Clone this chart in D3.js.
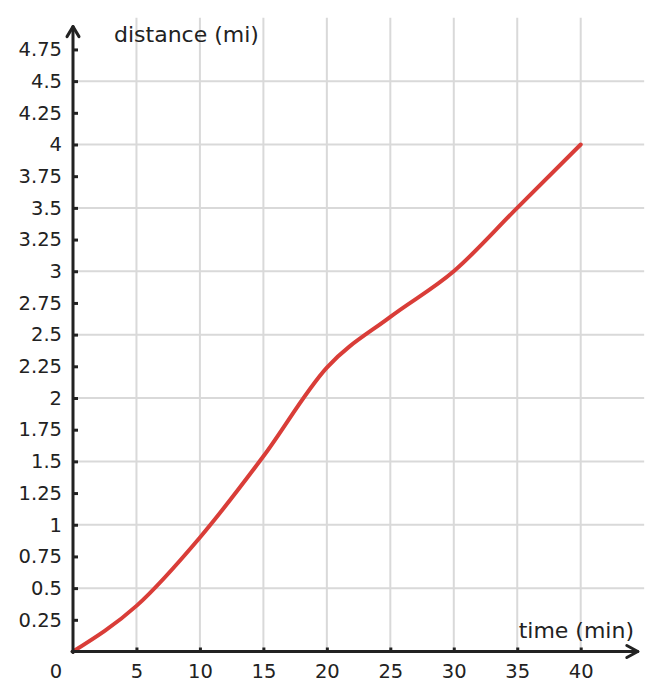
<!DOCTYPE html>
<html>
<head>
<meta charset="utf-8">
<script src="https://cdn.jsdelivr.net/npm/d3@7"></script>
<style>
  body { margin: 0; background: #fff; }
  svg { display: block; font-family: "DejaVu Sans", sans-serif; }
</style>
</head>
<body>
<svg width="662" height="700"></svg>
<script>
// data
const times = [0, 5, 10, 15, 20, 25, 30, 35, 40];
const distances = [0, 0.36, 0.9, 1.54, 2.24, 2.64, 3, 3.5, 4];

// axis ticks and grid
const xTicks = [5, 10, 15, 20, 25, 30, 35, 40];
const yTicks = [0.25, 0.5, 0.75, 1, 1.25, 1.5, 1.75, 2, 2.25, 2.5, 2.75, 3, 3.25, 3.5, 3.75, 4, 4.25, 4.5, 4.75];
const yGrid = [0.5, 1, 1.5, 2, 2.5, 3, 3.5, 4, 4.5];
const xLabel = "time (min)";
const yLabel = "distance (mi)";

const svg = d3.select("svg");
const ink = "#222";

const x = d3.scaleLinear().domain([0, 40]).range([73, 580.7]);
const y = d3.scaleLinear().domain([0, 4]).range([651.5, 144.5]);

// grid
const grid = svg.append("g").attr("stroke", "#d9d9d9").attr("stroke-width", 2);
grid.selectAll(".vg")
  .data(xTicks)
  .enter().append("line")
  .attr("x1", d => x(d)).attr("x2", d => x(d))
  .attr("y1", y(0)).attr("y2", y(5));
grid.selectAll(".hg")
  .data(yGrid)
  .enter().append("line")
  .attr("x1", x(0)).attr("x2", x(45))
  .attr("y1", d => y(d)).attr("y2", d => y(d));

// the line
const line = d3.line()
  .x((d, i) => x(times[i]))
  .y(d => y(d))
  .curve(d3.curveMonotoneX);

svg.append("path")
  .datum(distances)
  .attr("d", line)
  .attr("fill", "none")
  .attr("stroke", "#d93d38")
  .attr("stroke-width", 4)
  .attr("stroke-linecap", "round")
  .attr("stroke-linejoin", "round");

// axes
const yAxis = d3.axisLeft(y)
  .tickValues(yTicks)
  .tickSize(-5)
  .tickPadding(11)
  .tickFormat(d => String(d));

const xAxis = d3.axisBottom(x)
  .tickValues(xTicks)
  .tickSize(-4)
  .tickPadding(12.5)
  .tickFormat(d => String(d));

const styleAxis = g => {
  g.select(".domain").remove();
  g.attr("font-family", null).attr("font-size", null);
  g.selectAll(".tick line").attr("stroke", ink).attr("stroke-width", 3);
  g.selectAll(".tick text").attr("fill", ink).style("font-size", "19.5px");
};

svg.append("g")
  .attr("transform", `translate(${x(0)},0)`)
  .call(yAxis)
  .call(styleAxis);

svg.append("g")
  .attr("transform", `translate(0,${y(0)})`)
  .call(xAxis)
  .call(styleAxis);

// axis lines with arrowheads
const axes = svg.append("g")
  .attr("stroke", ink)
  .attr("stroke-width", 3)
  .attr("fill", "none")
  .attr("stroke-linecap", "round")
  .attr("stroke-linejoin", "round");

const yTop = y(4.93);
axes.append("line").attr("x1", x(0)).attr("x2", x(0)).attr("y1", y(0) + 1).attr("y2", yTop);
axes.append("path").attr("d", `M${x(0) - 6},${yTop + 10}L${x(0)},${yTop}L${x(0) + 6},${yTop + 10}`);

const xEnd = x(44.5);
axes.append("line").attr("x1", x(0) - 1).attr("x2", xEnd).attr("y1", y(0)).attr("y2", y(0));
axes.append("path").attr("d", `M${xEnd - 11},${y(0) - 6}L${xEnd},${y(0)}L${xEnd - 11},${y(0) + 6}`);

// origin label
svg.append("text")
  .attr("x", x(0) - 17)
  .attr("y", y(0) + 26)
  .attr("text-anchor", "middle")
  .attr("fill", ink)
  .style("font-size", "19.5px")
  .text("0");

// axis titles
svg.append("text")
  .attr("x", 114)
  .attr("y", 42)
  .attr("fill", ink)
  .style("font-size", "22px")
  .text(yLabel);

svg.append("text")
  .attr("x", 634)
  .attr("y", 638)
  .attr("text-anchor", "end")
  .attr("fill", ink)
  .style("font-size", "22px")
  .text(xLabel);
</script>
</body>
</html>
